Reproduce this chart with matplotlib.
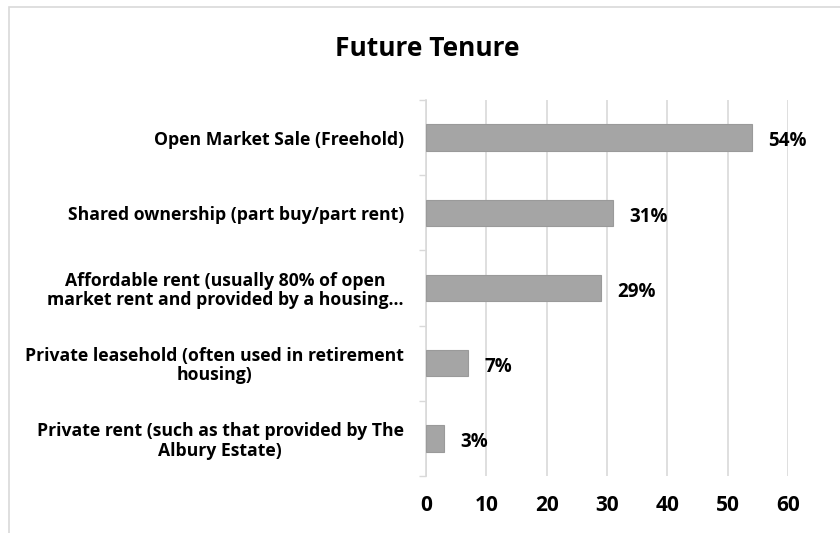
import matplotlib.pyplot as plt
from matplotlib.patches import Rectangle
import numpy as np

plt.rcParams['font.family'] = ['Open Sans', 'DejaVu Sans']

# chart data
categories = [
    "Open Market Sale (Freehold)",
    "Shared ownership (part buy/part rent)",
    "Affordable rent (usually 80% of open\nmarket rent and provided by a housing\u2026",
    "Private leasehold (often used in retirement\nhousing)",
    "Private rent (such as that provided by The\nAlbury Estate)",
]
values = [54, 31, 29, 7, 3]
x_ticks = [0, 10, 20, 30, 40, 50, 60]

fig = plt.figure(figsize=(8.4, 5.33), dpi=100)
ax = fig.add_axes([426 / 840, 1 - 476 / 533, (788 - 426) / 840, (476 - 100) / 533])

# outer chart border (cropped on right/bottom like the source)
fig.patches.append(Rectangle((9 / 840, -0.1), 1.2, 1 - 7 / 533 + 0.1,
                             transform=fig.transFigure, fill=False,
                             edgecolor='#D9D9D9', linewidth=1.2))

y = np.arange(len(categories))
ax.barh(y, values, height=0.35, color='#A5A5A5', edgecolor='#9A9A9A', linewidth=0.8, zorder=3)
for yi, v in zip(y, values):
    ax.text(v + 2.7, yi + 0.05, f"{v}%", va='center', ha='left',
            fontsize=13.5, fontweight='bold')

ax.set_ylim(len(categories) - 0.5, -0.5)
ax.set_xlim(0, 60)
ax.set_xticks(x_ticks)
ax.set_xticklabels([str(t) for t in x_ticks], fontsize=15, fontweight='bold')
ax.set_yticks(y)
ax.set_yticklabels(categories, fontsize=12.7, fontweight='bold', multialignment='center',
                   linespacing=1.08)
ax.set_yticks(np.arange(len(categories) + 1) - 0.5, minor=True)

ax.tick_params(axis='y', which='major', length=0, pad=16)
ax.tick_params(axis='y', which='minor', length=5, color='#D9D9D9', width=1)
ax.tick_params(axis='x', length=0, pad=14)

ax.grid(axis='x', color='#D9D9D9', linewidth=1.2, zorder=0)
for s in ['top', 'right', 'bottom']:
    ax.spines[s].set_visible(False)
ax.spines['left'].set_color('#D9D9D9')
ax.spines['left'].set_linewidth(1.2)

fig.text(427 / 840, 1 - 48 / 533, "Future Tenure", ha='center', va='center',
         fontsize=19, fontweight='bold')

fig.savefig('out.png', dpi=100)
